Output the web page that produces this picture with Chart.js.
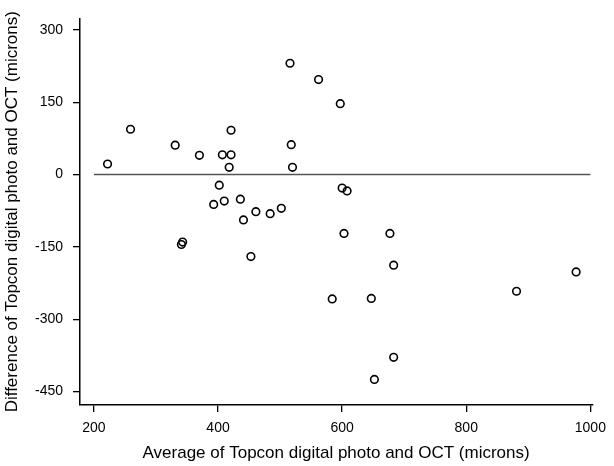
<!DOCTYPE html>
<html>
<head>
<meta charset="utf-8">
<script src="https://cdn.jsdelivr.net/npm/chart.js@4/dist/chart.umd.min.js"></script>
<style>
    html, body {
        margin: 0;
        padding: 0;
        background: #ffffff;
    }

    #wrap {
        width: 614px;
        height: 466px;
    }
</style>
</head>
<body>
<div id="wrap"><canvas id="blandAltman" width="614" height="466"></canvas></div>
<script>
// averages (x) and differences (y)
const averages = [
    222, 259, 331, 370, 407, 421, 421, 418, 402, 393, 410, 436,
    441, 461, 484, 502, 516, 562, 597, 518, 520, 600, 608, 603,
    677, 341, 343, 453, 584, 683, 977, 881, 647, 683, 652
];
const differences = [
    22, 94, 61, 40, 41, 41, 92, 15, -22, -62, -55, -51,
    -94, -77, -81, -70, 231, 197, 147, 62, 15, -28, -34, -122,
    -122, -145, -140, -170, -258, -188, -202, -242, -257, -379, -425
];

const xTicks = [200, 400, 600, 800, 1000];
const yTicks = [300, 150, 0, -150, -300, -450];
const zeroLineX = [200, 1000];

const xTitle = "Average of Topcon digital photo and OCT (microns)";
const yTitle = "Difference of Topcon digital photo and OCT (microns)";

const fontFamily = "'Liberation Sans', Arial, Helvetica, sans-serif";

const points = [];
for (let i = 0; i < averages.length; i++) {
    points.push({ x: averages[i], y: differences[i] });
}

const zeroLine = [];
for (let x of zeroLineX) {
    zeroLine.push({ x: x, y: 0 });
}

const setTicks = (values) => {
    return (scale) => {
        scale.ticks = values.map((v) => ({ value: v }));
    };
};

// plain numbers, no thousands separator
const plainLabel = (value) => String(value);

new Chart(document.querySelector("#blandAltman"), {
    type: "scatter",
    data: {
        datasets: [
            {
                type: "line",
                data: zeroLine,
                borderColor: "#555555",
                borderWidth: 1.5,
                pointRadius: 0,
                fill: false
            },
            {
                data: points,
                pointRadius: 3.8,
                pointBorderWidth: 1.6,
                pointBorderColor: "#000000",
                pointBackgroundColor: "rgba(255,255,255,0)"
            }
        ]
    },
    options: {
        responsive: false,
        animation: false,
        layout: {
            padding: { top: 16, right: 16, left: 0, bottom: 0 }
        },
        plugins: {
            legend: { display: false },
            tooltip: { enabled: false }
        },
        scales: {
            x: {
                type: "linear",
                min: 177.6,
                max: 1003,
                afterBuildTicks: setTicks(xTicks),
                afterFit: (scale) => { scale.height = 61; },
                border: { display: true, color: "#000000", width: 1.5 },
                grid: { drawOnChartArea: false, drawTicks: true, tickLength: 7, color: "#000000", lineWidth: 1.3 },
                ticks: {
                    padding: 8,
                    color: "#000000",
                    maxRotation: 0,
                    callback: plainLabel,
                    font: { family: fontFamily, size: 14 }
                },
                title: {
                    display: true,
                    text: xTitle,
                    color: "#000000",
                    padding: { top: 0, bottom: 2 },
                    font: { family: fontFamily, size: 17 }
                }
            },
            y: {
                type: "linear",
                min: -478,
                max: 324,
                afterBuildTicks: setTicks(yTicks),
                afterFit: (scale) => { scale.width = 80; },
                border: { display: true, color: "#000000", width: 1.5 },
                grid: { drawOnChartArea: false, drawTicks: true, tickLength: 7, color: "#000000", lineWidth: 1.3 },
                ticks: {
                    padding: 10,
                    color: "#000000",
                    callback: plainLabel,
                    font: { family: fontFamily, size: 14 }
                },
                title: {
                    display: true,
                    text: yTitle,
                    color: "#000000",
                    padding: { top: 2, bottom: 0 },
                    font: { family: fontFamily, size: 17 }
                }
            }
        }
    }
});
</script>
</body>
</html>
